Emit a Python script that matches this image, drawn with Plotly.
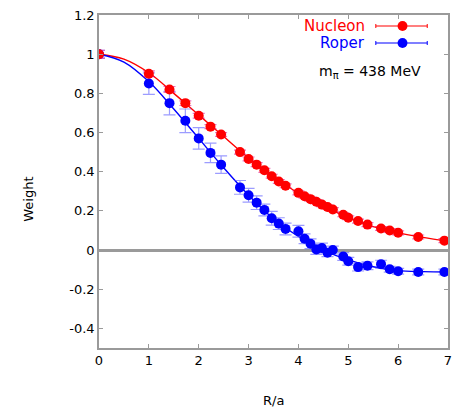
import plotly.graph_objects as go

# ---- data ----
r_vals = [0, 1, 1.414, 1.732, 2, 2.236, 2.449, 2.828, 3, 3.162, 3.317, 3.464, 3.606, 3.742,
          4, 4.123, 4.243, 4.359, 4.472, 4.583, 4.690, 4.899, 5.0, 5.196, 5.385, 5.657,
          5.831, 6.0, 6.403, 6.928]
nucleon = [1.0, 0.90, 0.82, 0.75, 0.686, 0.63, 0.59, 0.50, 0.465, 0.436, 0.407, 0.377, 0.35, 0.328,
           0.292, 0.275, 0.26, 0.247, 0.232, 0.22, 0.207, 0.18, 0.165, 0.148, 0.13, 0.11,
           0.10, 0.088, 0.067, 0.048]
nucleon_err = [0.02, 0.015, 0.015, 0.012, 0.012, 0.01, 0.01, 0.01, 0.01, 0.01, 0.01, 0.01, 0.01, 0.01,
               0.01, 0.01, 0.01, 0.01, 0.01, 0.01, 0.01, 0.01, 0.01, 0.01, 0.01, 0.01,
               0.01, 0.01, 0.01, 0.01]
roper = [1.0, 0.85, 0.75, 0.66, 0.57, 0.496, 0.436, 0.32, 0.28, 0.242, 0.205, 0.162, 0.135, 0.108,
         0.096, 0.058, 0.032, 0.003, 0.01, -0.014, 0.0, -0.033, -0.057, -0.087, -0.08, -0.072,
         -0.098, -0.108, -0.112, -0.112]
roper_err = [0.02, 0.055, 0.06, 0.06, 0.055, 0.05, 0.045, 0.035, 0.035, 0.035, 0.03, 0.035, 0.03, 0.03,
             0.03, 0.025, 0.025, 0.025, 0.025, 0.02, 0.02, 0.02, 0.02, 0.02, 0.02, 0.02,
             0.015, 0.015, 0.015, 0.015]

fit_x = [0, 0.5, 1, 1.5, 2, 2.5, 3, 3.5, 4, 4.5, 5, 5.5, 6, 6.5, 7]
nucleon_fit = [1.0, 0.975, 0.905, 0.80, 0.69, 0.58, 0.47, 0.375, 0.29, 0.225, 0.165, 0.12, 0.088, 0.065, 0.045]
roper_fit = [1.0, 0.96, 0.86, 0.72, 0.57, 0.42, 0.28, 0.16, 0.07, 0.0, -0.05, -0.085, -0.105, -0.11, -0.112]

x_ticks = [0, 1, 2, 3, 4, 5, 6, 7]
y_ticks = [-0.4, -0.2, 0, 0.2, 0.4, 0.6, 0.8, 1, 1.2]
y_tick_text = ["-0.4", "-0.2", "0", "0.2", "0.4", "0.6", "0.8", "1", "1.2"]

RED = "#ff0000"
BLUE = "#0000ff"
FONT = "DejaVu Sans"

fig = go.Figure()

fig.add_trace(go.Scatter(x=fit_x, y=nucleon_fit, mode="lines", line=dict(color=RED, width=1.4, shape="spline"),
                         showlegend=False, hoverinfo="skip"))
fig.add_trace(go.Scatter(x=fit_x, y=roper_fit, mode="lines", line=dict(color=BLUE, width=1.4, shape="spline"),
                         showlegend=False, hoverinfo="skip"))
fig.add_trace(go.Scatter(x=r_vals, y=roper, mode="markers",
                         marker=dict(color=BLUE, size=10),
                         error_y=dict(type="data", array=roper_err, color="rgba(90,90,255,0.6)",
                                      thickness=1.2, width=6),
                         showlegend=False))
fig.add_trace(go.Scatter(x=r_vals, y=nucleon, mode="markers",
                         marker=dict(color=RED, size=10, symbol="circle"),
                         error_y=dict(type="data", array=nucleon_err, color="rgba(220,0,140,0.55)",
                                      thickness=1.2, width=6),
                         showlegend=False))

# plot area geometry in pixels: x 99..452, y 15..348
W, H = 456, 413
L, R, T, B = 99, 452, 15, 348
def px(xp):
    return (xp - L) / (R - L)
def py(yp):
    return (B - yp) / (B - T)

shapes = []
annotations = []
for label, color, yp in [("Nucleon", RED, 26), ("Roper", BLUE, 43)]:
    annotations.append(dict(xref="paper", yref="paper", x=px(370), y=py(yp), text=label,
                            showarrow=False, xanchor="right", yanchor="middle",
                            font=dict(family=FONT, size=15, color=color)))
    shapes.append(dict(type="line", xref="paper", yref="paper", x0=px(379), x1=px(431),
                       y0=py(yp), y1=py(yp), line=dict(color=color, width=1.2)))
    for xe in (379, 431):
        shapes.append(dict(type="line", xref="paper", yref="paper", x0=px(xe), x1=px(xe),
                           y0=py(yp - 2), y1=py(yp + 2), line=dict(color=color, width=1)))
    shapes.append(dict(type="circle", xref="paper", yref="paper", x0=px(401), x1=px(411),
                       y0=py(yp + 5), y1=py(yp - 5), fillcolor=color, line=dict(color=color, width=0)))

annotations.append(dict(xref="paper", yref="paper", x=px(427), y=py(72),
                        text="m<sub>π</sub> = 438 MeV", showarrow=False, xanchor="right", yanchor="middle",
                        font=dict(family=FONT, size=14, color="black")))
annotations.append(dict(xref="paper", yref="paper", x=px(27), y=py(199), text="Weight", textangle=-90,
                        showarrow=False, xanchor="center", yanchor="middle",
                        font=dict(family=FONT, size=13, color="black")))
annotations.append(dict(xref="paper", yref="paper", x=px(275), y=py(400), text="R/a",
                        showarrow=False, xanchor="center", yanchor="middle",
                        font=dict(family=FONT, size=13, color="black")))

axis_common = dict(showgrid=False, showline=True, linecolor="#9a9a9a", linewidth=1.5,
                   mirror="ticks", ticks="inside", ticklen=4, tickcolor="#9a9a9a", tickwidth=1,
                   tickfont=dict(family=FONT, size=13, color="black"))

fig.update_layout(
    width=W, height=H,
    margin=dict(l=L, r=W - R, t=T, b=H - B),
    paper_bgcolor="white", plot_bgcolor="white",
    showlegend=False,
    shapes=shapes, annotations=annotations,
    xaxis=dict(range=[0, 7], tickvals=x_ticks, zeroline=False, **axis_common),
    yaxis=dict(range=[-0.5, 1.2], tickvals=y_ticks, ticktext=y_tick_text,
               zeroline=True, zerolinecolor="#9a9a9a", zerolinewidth=3, **axis_common),
)

fig.write_html("out.html")
